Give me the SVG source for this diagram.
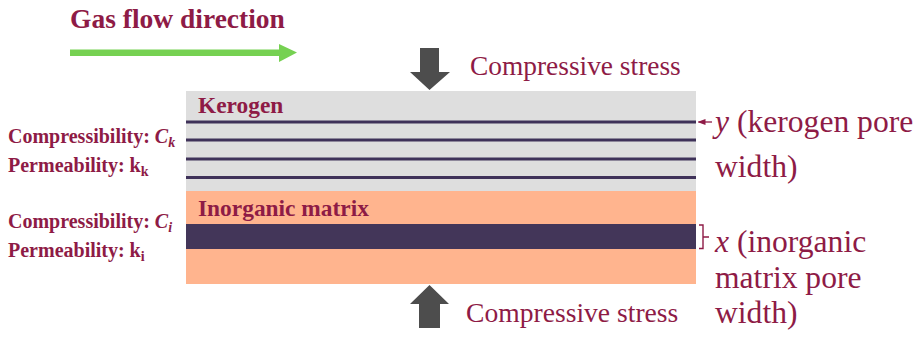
<svg xmlns="http://www.w3.org/2000/svg" width="918" height="339" viewBox="0 0 918 339">
  <style>
    .lbl { font-family: 'Liberation Serif', 'DejaVu Serif', serif; fill: #8e1b46; }
    .b { font-weight: bold; }
    .it { font-style: italic; }
    .pore { stroke: #3f3259; stroke-width: 3; }
    .stress { fill: #4d4d4d; }
  </style>
  <defs>
    <marker id="tinyHead" markerWidth="8" markerHeight="6" refX="1" refY="3" orient="auto" markerUnits="userSpaceOnUse">
      <path d="M8,0 L0,3 L8,6 Z" fill="#8e1b46"/>
    </marker>
  </defs>

  <!-- flow direction -->
  <g id="flow">
    <text class="lbl b" x="70" y="28" font-size="27.5">Gas flow direction</text>
    <path d="M70,49.5 H279 V44 L297,52.5 L279,62 V56 H70 Z" fill="#76d152"/>
  </g>

  <!-- kerogen layer -->
  <g id="kerogen">
    <rect x="186" y="91" width="510" height="100" fill="#dedede"/>
    <line class="pore" x1="186" y1="122" x2="696" y2="122"/>
    <line class="pore" x1="186" y1="140" x2="696" y2="140"/>
    <line class="pore" x1="186" y1="159" x2="696" y2="159"/>
    <line class="pore" x1="186" y1="177.5" x2="696" y2="177.5"/>
    <text class="lbl b" x="198" y="113" font-size="23.4">Kerogen</text>
  </g>

  <!-- inorganic matrix layer -->
  <g id="inorganic">
    <rect x="186" y="191" width="510" height="93" fill="#ffb48e"/>
    <rect x="186" y="224" width="510" height="25" fill="#433659"/>
    <text class="lbl b" x="198" y="216" font-size="23.4">Inorganic matrix</text>
  </g>

  <!-- compressive stress, top and bottom -->
  <g id="stress-top">
    <path class="stress" d="M420,48 H439 V72 H450 L429.5,90 L410,72 H420 Z"/>
    <text class="lbl" x="470" y="75" font-size="27.4">Compressive stress</text>
  </g>
  <g id="stress-bottom">
    <path class="stress" d="M419,328 H440 V304 H449 L429.5,285 L410,304 H419 Z"/>
    <text class="lbl" x="466" y="322" font-size="27.6">Compressive stress</text>
  </g>

  <!-- properties -->
  <g id="kerogen-props">
    <text class="lbl b" x="8" y="143" font-size="20">Compressibility: <tspan class="it">C</tspan><tspan class="it" font-size="14" dy="4">k</tspan></text>
    <text class="lbl b" x="8" y="172" font-size="20">Permeability: k<tspan font-size="14" dy="4">k</tspan></text>
  </g>
  <g id="inorganic-props">
    <text class="lbl b" x="8" y="228" font-size="20">Compressibility: <tspan class="it">C</tspan><tspan class="it" font-size="14" dy="4">i</tspan></text>
    <text class="lbl b" x="8" y="257" font-size="20">Permeability: k<tspan font-size="14" dy="4">i</tspan></text>
  </g>

  <!-- pore width annotations -->
  <g id="connectors">
    <line x1="698.5" y1="122" x2="712" y2="122" stroke="#8e1b46" stroke-width="1.3" marker-start="url(#tinyHead)"/>
    <path d="M699,225 H703 V237 H709 M703,237 V248.5 H699" fill="none" stroke="#8e1b46" stroke-width="1.4"/>
  </g>
  <g id="y-width">
    <text class="lbl" x="715" y="132" font-size="31.6"><tspan class="it">y</tspan> (kerogen pore</text>
    <text class="lbl" x="715" y="177" font-size="31.6">width)</text>
  </g>
  <g id="x-width">
    <text class="lbl" x="715" y="252" font-size="31.6"><tspan class="it">x</tspan> (inorganic</text>
    <text class="lbl" x="715" y="288" font-size="31.6">matrix pore</text>
    <text class="lbl" x="715" y="323" font-size="31.6">width)</text>
  </g>
</svg>
